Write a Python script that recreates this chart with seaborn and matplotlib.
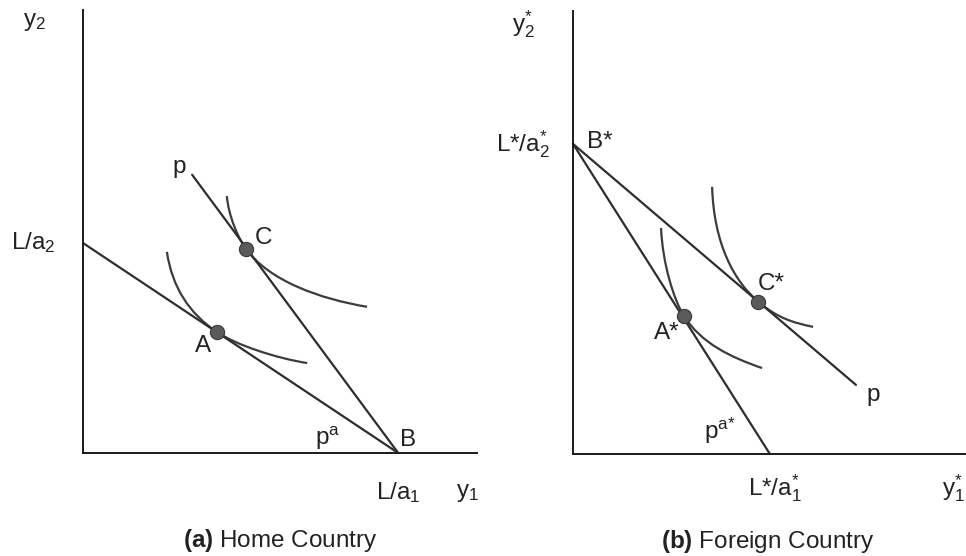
import matplotlib
matplotlib.use("Agg")
import matplotlib.pyplot as plt
from matplotlib.path import Path
from matplotlib.patches import PathPatch
import seaborn as sns

sns.set_style("white")
plt.rcParams["font.family"] = ["Liberation Sans", "DejaVu Sans"]
plt.rcParams["mathtext.fontset"] = "custom"
plt.rcParams["mathtext.rm"] = "Liberation Sans"
plt.rcParams["mathtext.it"] = "Liberation Sans"
plt.rcParams["mathtext.bf"] = "Liberation Sans:bold"

# ---------------- data (panel a: Home) ----------------
home_La2 = 4.74
home_La1 = 8.0
home_p_start = (2.77, 6.28)
home_C = (4.14, 4.60)
home_A = (3.40, 2.73)
# indifference curves: cubic Bezier vertices (start, ctrl, ctrl, dot, ctrl, ctrl, end)
home_C_curve_x = [3.65, 3.695, 3.94, 4.14, 4.74, 6.01, 7.21]
home_C_curve_y = [5.80, 5.35, 4.84, 4.60, 3.88, 3.48, 3.30]
home_A_curve_x = [2.13, 2.26, 2.70, 3.40, 3.90, 4.89, 5.69]
home_A_curve_y = [4.54, 3.74, 3.145, 2.73, 2.434, 2.144, 2.03]

# ---------------- data (panel b: Foreign) ----------------
for_La2 = 7.00
for_La1 = 5.01
for_p_end = (7.20, 1.56)
for_A = (2.82, 3.12)
for_C = (4.71, 3.44)
for_C_curve_x = [3.54, 3.584, 4.11, 4.71, 5.21, 5.61, 6.11]
for_C_curve_y = [6.03, 4.73, 3.893, 3.44, 3.062, 2.963, 2.87]
for_A_curve_x = [2.24, 2.278, 2.57, 2.82, 3.27, 4.01, 4.81]
for_A_curve_y = [5.10, 4.30, 3.47, 3.12, 2.49, 2.188, 1.94]

LINE = "#2e2e2e"
CURVE = "#3c3c3c"
DOT = "#5a5a5a"
FS = 17.5

W, H = 966, 556
fig = plt.figure(figsize=(W / 100, H / 100), dpi=100)
axL = fig.add_axes([83 / W, (H - 453) / H, 394 / W, 443 / H])
axR = fig.add_axes([573 / W, (H - 454) / H, 393 / W, 443 / H])


def style(ax):
    ax.set_xlim(0, 10)
    ax.set_ylim(0, 10)
    sns.despine(ax=ax)
    for s in ("left", "bottom"):
        ax.spines[s].set_color("#1a1a1a")
        ax.spines[s].set_linewidth(1.4)
    ax.set_xticks([])
    ax.set_yticks([])
    ax.set_xlabel("")
    ax.set_ylabel("")
    ax.patch.set_alpha(0)


def line(ax, xs, ys, color=LINE, lw=1.6):
    sns.lineplot(x=xs, y=ys, ax=ax, color=color, lw=lw, sort=False,
                 estimator=None, legend=False, clip_on=False)


def curve(ax, xs, ys, color=CURVE, lw=1.6):
    verts = list(zip(xs, ys))
    codes = [Path.MOVETO] + [Path.CURVE4] * (len(verts) - 1)
    ax.add_patch(PathPatch(Path(verts, codes), facecolor="none",
                           edgecolor=color, lw=lw, clip_on=False,
                           capstyle="butt"))


def dots(ax, pts):
    sns.scatterplot(x=[p[0] for p in pts], y=[p[1] for p in pts], ax=ax,
                    s=105, color=DOT, edgecolor="#3a3a3a", linewidth=0.8,
                    zorder=5, legend=False, clip_on=False)


kw = dict(fontsize=FS, color="#222222", ha="center", va="center")

# ---------- panel a ----------
line(axL, [0, home_La1], [home_La2, 0])
line(axL, [home_p_start[0], home_La1], [home_p_start[1], 0])
curve(axL, home_C_curve_x, home_C_curve_y)
curve(axL, home_A_curve_x, home_A_curve_y)
dots(axL, [home_C, home_A])
style(axL)

axL.text(-1.22, 9.72, r"$\mathrm{y_2}$", **kw)
axL.text(-1.27, home_La2, r"$\mathrm{L/a_2}$", **kw)
axL.text(2.44, 6.46, "p", **kw)
axL.text(4.57, 4.85, "C", **kw)
axL.text(3.05, 2.42, "A", **kw)
axL.text(6.22, 0.34, r"$\mathrm{p^a}$", **kw)
axL.text(8.25, 0.30, "B", **kw)
axL.text(home_La1, -0.90, r"$\mathrm{L/a_1}$", **kw)
axL.text(9.75, -0.90, r"$\mathrm{y_1}$", **kw)
axL.text(5.0, -1.97, r"$\mathbf{(a)}$ Home Country", **kw)

# ---------- panel b ----------
line(axR, [0, for_La1], [for_La2, 0])
line(axR, [0, for_p_end[0]], [for_La2, for_p_end[1]])
curve(axR, for_C_curve_x, for_C_curve_y)
curve(axR, for_A_curve_x, for_A_curve_y)
dots(axR, [for_C, for_A])
style(axR)

axR.text(-1.27, 9.70, r"$\mathrm{y_2^{*}}$", **kw)
axR.text(-1.27, for_La2, r"L*/$\mathrm{a_2^{*}}$", **kw)
axR.text(0.69, 7.04, "B*", **kw)
axR.text(5.04, 3.84, "C*", **kw)
axR.text(2.39, 2.73, "A*", **kw)
axR.text(7.63, 1.33, "p", **kw)
axR.text(3.74, 0.52, r"$\mathrm{p^{a{*}}}$", **kw)
axR.text(5.14, -0.77, r"L*/$\mathrm{a_1^{*}}$", **kw)
axR.text(9.67, -0.77, r"$\mathrm{y_1^{*}}$", **kw)
axR.text(4.96, -1.97, r"$\mathbf{(b)}$ Foreign Country", **kw)

fig.savefig("out.png", dpi=100, facecolor="white")
